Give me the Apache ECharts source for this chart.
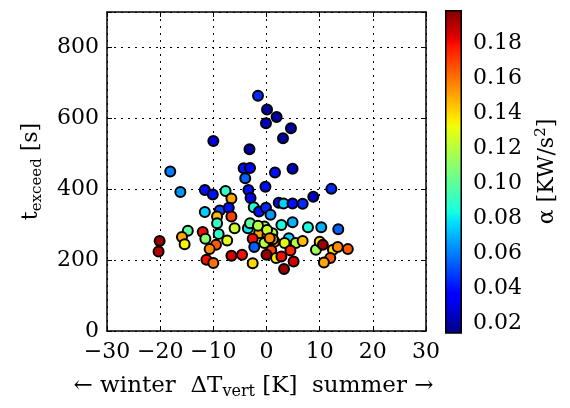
<!DOCTYPE html>
<html>
<head>
<meta charset="utf-8">
<script src="https://cdn.jsdelivr.net/npm/echarts@6/dist/echarts.min.js"></script>
<style>html,body{margin:0;padding:0;background:#fff}#c{width:570px;height:408px}</style>
</head>
<body>
<div id="c"></div>
<script>
// Data
const dTvert = [-1.6,0.1,1.9,-0.1,4.6,3.1,-10.0,-3.2,-4.3,-3.1,1.6,4.9,-4.0,-18.1,-16.2,-11.6,-10.1,-7.7,-6.6,-3.4,-3.0,-0.2,-11.6,-8.8,-7.1,-6.6,-2.4,-1.4,12.2,8.8,2.3,3.2,4.9,6.8,-0.1,0.75,4.9,2.8,7.8,10.3,13.5,-9.3,-9.3,-9.0,-14.8,-15.9,-15.4,-20.1,-20.3,-12.0,-11.5,-7.4,-9.5,-10.7,-11.3,-10.0,-6.0,-3.5,-3.1,-0.4,-1.4,-2.6,-2.3,-6.6,-4.6,-2.6,-1.6,0.2,-0.4,1.5,0.9,0.0,1.8,2.8,4.2,3.4,5.5,6.8,4.5,5.1,3.3,9.3,10.0,10.6,12.5,13.4,15.3,12.0,10.8,1.1,0.1,1.2,0.6];
const tExceed = [664,625,604,586,572,544,536,513,459,460,447,458,431,450,392,398,385,395,374,398,375,407,336,340,348,323,349,337,401,379,362,360,360,359,348,328,307,299,293,293,287,323,304,274,283,265,245,254,224,279,260,255,243,231,201,192,290,290,304,295,276,260,237,212,215,191,297,271,248,252,227,215,206,210,262,248,248,254,227,196,175,229,252,243,229,237,231,206,193,276,285,259,262];
const alphaVals = [0.045,0.02,0.02,0.025,0.02,0.02,0.03,0.02,0.04,0.035,0.04,0.025,0.055,0.06,0.065,0.04,0.04,0.09,0.15,0.04,0.035,0.04,0.075,0.05,0.04,0.17,0.085,0.04,0.045,0.025,0.04,0.075,0.04,0.045,0.045,0.065,0.07,0.085,0.085,0.07,0.055,0.145,0.09,0.09,0.1,0.15,0.135,0.195,0.19,0.18,0.11,0.13,0.165,0.155,0.18,0.16,0.125,0.08,0.1,0.12,0.15,0.18,0.055,0.185,0.18,0.14,0.12,0.145,0.12,0.155,0.17,0.195,0.135,0.18,0.075,0.13,0.12,0.145,0.175,0.185,0.195,0.115,0.14,0.195,0.14,0.155,0.165,0.165,0.15,0.12,0.125,0.15,0.155];
const xTicks = [-30,-20,-10,0,10,20,30];
const yTicks = [0,200,400,600,800];
const cbTicks = [0.02,0.04,0.06,0.08,0.10,0.12,0.14,0.16,0.18];
const cbMin = 0.0145, cbMax = 0.199;

// jet colormap
function pw(pts, t){
  for(let i=1;i<pts.length;i++){
    if(t<=pts[i][0]){const [x0,y0]=pts[i-1],[x1,y1]=pts[i];return y0+(y1-y0)*(t-x0)/(x1-x0);}
  }
  return pts[pts.length-1][1];
}
const R=[[0,0],[0.35,0],[0.66,1],[0.89,1],[1,0.5]];
const G=[[0,0],[0.125,0],[0.375,1],[0.64,1],[0.91,0],[1,0]];
const B=[[0,0.5],[0.11,1],[0.34,1],[0.65,0],[1,0]];
function jet(t){const c=v=>Math.round(255*v);return 'rgb('+c(pw(R,t))+','+c(pw(G,t))+','+c(pw(B,t))+')';}
const N=64, jetColors=[], stops=[];
for(let i=0;i<=N;i++){const t=i/N;jetColors.push(jet(t));stops.push({offset:1-t,color:jet(t)});}
stops.reverse();

const pts = dTvert.map((x,i)=>[x,tExceed[i],alphaVals[i]]);
const F='DejaVu Serif';
const FS=22;
const lab={fontFamily:F,fontSize:FS,color:'#000'};
const rich={n:{fontFamily:F,fontSize:FS,color:'#000'},s:{fontFamily:F,fontSize:15,color:'#000',padding:[12,0,0,0]},p:{fontFamily:F,fontSize:15,color:'#000',padding:[0,0,12,0]}};
const richX={n:{fontFamily:F,fontSize:23,color:'#000'},s:{fontFamily:F,fontSize:16,color:'#000',padding:[12,0,0,0]},e:{fontSize:23,width:26}};
const line={show:true,onZero:false,lineStyle:{color:'#000',width:1.5}};
const split={show:true,lineStyle:{color:'#000',type:[2,5],width:1}};
const tick={inside:true,length:5,customValues:null,lineStyle:{color:'#000',width:1}};

const chart=echarts.init(document.getElementById('c'),null,{renderer:'canvas'});
chart.setOption({
  animation:false,
  backgroundColor:'#fff',
  grid:[{left:107,right:144,top:12,bottom:77},{left:445,width:17,top:10,bottom:75}],
  xAxis:[
    {gridIndex:0,type:'value',min:-30,max:30,interval:10,position:'bottom',
     axisLine:line,axisTick:{inside:true,length:5,lineStyle:{color:'#000',width:1}},
     axisLabel:Object.assign({margin:10,formatter:v=>String(v).replace('-','\u2212')},lab),
     splitLine:split,
     name:'{n|\u2190 winter  \u0394T}{s|vert}{n| [K]  summer \u2192}{e|}',nameLocation:'middle',nameGap:41,
     nameTextStyle:{rich:richX}},
    {gridIndex:0,type:'value',min:-30,max:30,interval:10,position:'top',
     axisLine:line,axisTick:{inside:true,length:5,lineStyle:{color:'#000',width:1}},axisLabel:{show:false},splitLine:{show:false}},
    {gridIndex:1,type:'category',data:[''],axisLine:{show:false},axisTick:{show:false},axisLabel:{show:false},splitLine:{show:false}}
  ],
  yAxis:[
    {gridIndex:0,type:'value',min:0,max:900,interval:200,position:'left',
     axisLine:line,axisTick:{inside:true,length:5,lineStyle:{color:'#000',width:1}},
     axisLabel:Object.assign({margin:8,formatter:v=>v>850?'':String(v)},lab),
     splitLine:split,
     name:'{n|t}{s|exceed}{n| [s]}',nameLocation:'middle',nameRotate:90,nameGap:62,
     nameTextStyle:{rich:rich}},
    {gridIndex:0,type:'value',min:0,max:900,interval:200,position:'right',
     axisLine:line,axisTick:{inside:true,length:5,lineStyle:{color:'#000',width:1}},axisLabel:{show:false},splitLine:{show:false}},
    {gridIndex:1,type:'value',min:cbMin,max:cbMax,position:'right',
     axisLine:{show:false},
     axisTick:{show:true,inside:true,length:4,customValues:cbTicks,lineStyle:{color:'#000',width:1}},
     axisLabel:Object.assign({show:true,margin:11,customValues:cbTicks,formatter:v=>v.toFixed(2)},lab),
     splitLine:{show:false},
     name:'{n|\u03b1 [KW/s}{p|2}{n|]}',nameLocation:'middle',nameRotate:90,nameGap:72,
     nameTextStyle:{rich:rich}}
  ],
  visualMap:{type:'continuous',show:false,min:cbMin,max:cbMax,dimension:2,seriesIndex:0,inRange:{color:jetColors}},
  series:[
    {type:'scatter',xAxisIndex:0,yAxisIndex:0,data:pts,symbolSize:10,
     itemStyle:{borderColor:'#000',borderWidth:2,opacity:1}},
    {type:'bar',xAxisIndex:2,yAxisIndex:2,data:[cbMax],barWidth:'100%',silent:true,
     itemStyle:{color:{type:'linear',x:0,y:0,x2:0,y2:1,colorStops:stops},borderColor:'#000',borderWidth:1.5}}
  ]
});
</script>
</body>
</html>
